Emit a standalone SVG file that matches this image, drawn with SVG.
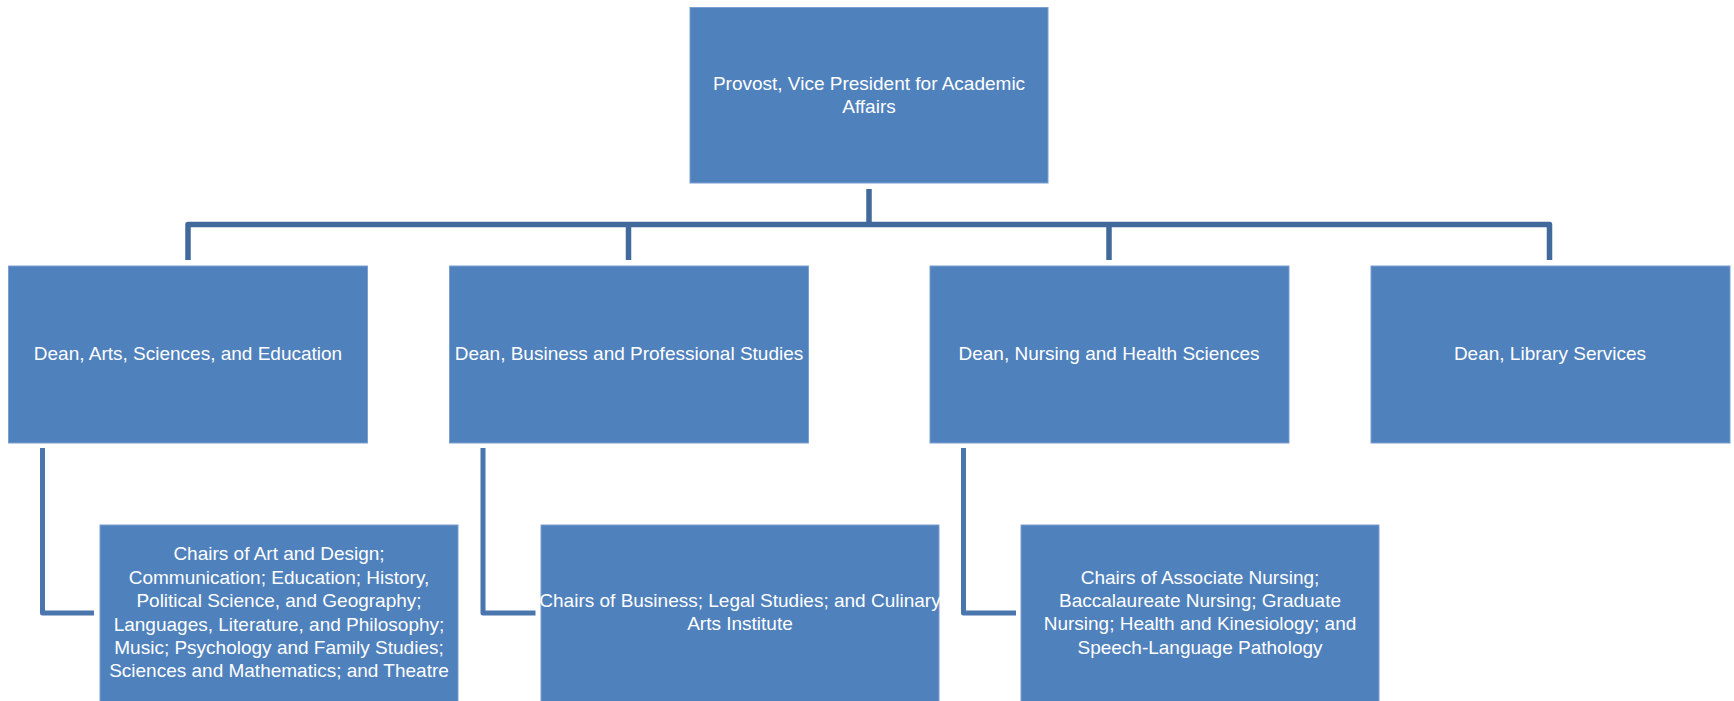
<svg xmlns="http://www.w3.org/2000/svg" width="1734" height="701" viewBox="0 0 1734 701">
<style>
.box{fill:#4F81BD;stroke:#7A9FD0;stroke-width:1}
.t{font-family:"Liberation Sans",Arial,sans-serif;font-size:19px;fill:#FFFFFF;text-anchor:middle}
.c1{fill:none;stroke:#41699B;stroke-width:5.5;stroke-linejoin:round}
.c2{fill:none;stroke:#4A76AD;stroke-width:5;stroke-linejoin:round}
</style>
<rect width="1734" height="701" fill="#FFFFFF"/>
<g id="connectors">
<path class="c1" d="M869,189 V224.5"/>
<path class="c1" d="M188,260 V224.5 H1549.5 V260"/>
<path class="c1" d="M628.5,260 V224.5"/>
<path class="c1" d="M1109,260 V224.5"/>
<path class="c2" d="M42.5,448 V613 H94"/>
<path class="c2" d="M483,448 V613 H535.5"/>
<path class="c2" d="M963.5,448 V613 H1016"/>
</g>
<g id="provost">
<rect class="box" x="690" y="7.5" width="358" height="175.5"/>
<text class="t" x="869" y="90">Provost, Vice President for Academic</text>
<text class="t" x="869" y="113">Affairs</text>
</g>
<g id="dean-ase">
<rect class="box" x="8.5" y="266" width="359" height="177"/>
<text class="t" x="188" y="360">Dean, Arts, Sciences, and Education</text>
</g>
<g id="dean-bps">
<rect class="box" x="449.5" y="266" width="359" height="177"/>
<text class="t" x="629" y="360">Dean, Business and Professional Studies</text>
</g>
<g id="dean-nhs">
<rect class="box" x="930" y="266" width="359" height="177"/>
<text class="t" x="1109" y="360">Dean, Nursing and Health Sciences</text>
</g>
<g id="dean-lib">
<rect class="box" x="1371" y="266" width="359" height="177"/>
<text class="t" x="1550" y="360">Dean, Library Services</text>
</g>
<g id="chairs-ase">
<rect class="box" x="100" y="525" width="358" height="180"/>
<text class="t" x="279" y="560">Chairs of Art and Design;</text>
<text class="t" x="279" y="583.5">Communication; Education; History,</text>
<text class="t" x="279" y="607">Political Science, and Geography;</text>
<text class="t" x="279" y="630.5">Languages, Literature, and Philosophy;</text>
<text class="t" x="279" y="654">Music; Psychology and Family Studies;</text>
<text class="t" x="279" y="677">Sciences and Mathematics; and Theatre</text>
</g>
<g id="chairs-bps">
<rect class="box" x="541" y="525" width="398" height="180"/>
<text class="t" x="740" y="607">Chairs of Business; Legal Studies; and Culinary</text>
<text class="t" x="740" y="630">Arts Institute</text>
</g>
<g id="chairs-nhs">
<rect class="box" x="1021" y="525" width="358" height="180"/>
<text class="t" x="1200" y="583.5">Chairs of Associate Nursing;</text>
<text class="t" x="1200" y="607">Baccalaureate Nursing; Graduate</text>
<text class="t" x="1200" y="630">Nursing; Health and Kinesiology; and</text>
<text class="t" x="1200" y="653.5">Speech-Language Pathology</text>
</g>
</svg>
